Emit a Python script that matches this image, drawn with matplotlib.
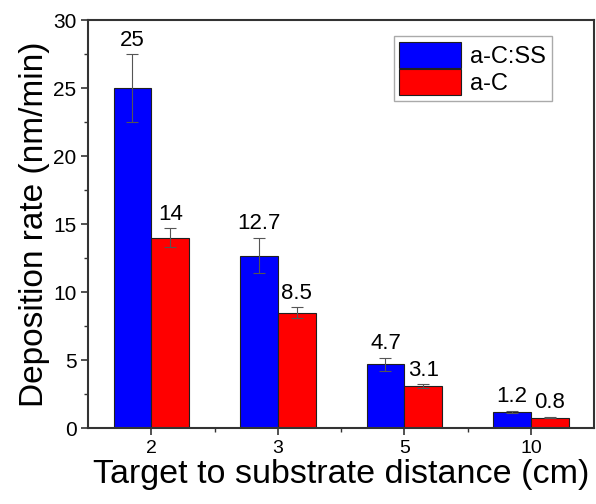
import numpy as np
import matplotlib
matplotlib.use("Agg")
import matplotlib.pyplot as plt
from matplotlib.ticker import MultipleLocator

plt.rcParams['font.family'] = ['Liberation Sans', 'DejaVu Sans']

# data
distances = ["2", "3", "5", "10"]
acss = [25, 12.7, 4.7, 1.2]
acss_err = [2.5, 1.3, 0.5, 0.1]
ac = [14, 8.5, 3.1, 0.8]
ac_err = [0.7, 0.4, 0.15, 0.05]
acss_labels = ["25", "12.7", "4.7", "1.2"]
ac_labels = ["14", "8.5", "3.1", "0.8"]

x = np.arange(len(distances))
w = 0.30

fig, ax = plt.subplots(figsize=(5.96, 5.04), dpi=100)
fig.subplots_adjust(left=0.148, right=0.997, top=0.96, bottom=0.15)

ax.bar(x - w/2, acss, w, color="#0000ff", edgecolor="#202020", linewidth=0.8,
       yerr=acss_err, error_kw=dict(ecolor="#555555", elinewidth=0.8, capsize=4, capthick=0.8),
       label="a-C:SS")
ax.bar(x + w/2, ac, w, color="#ff0000", edgecolor="#202020", linewidth=0.8,
       yerr=ac_err, error_kw=dict(ecolor="#555555", elinewidth=0.8, capsize=4, capthick=0.8),
       label="a-C")

# value labels
for i in range(len(x)):
    ax.text(x[i] - w/2, acss[i] + acss_err[i] + 0.25, acss_labels[i],
            ha="center", va="bottom", fontsize=16)
    ax.text(x[i] + w/2, ac[i] + ac_err[i] + 0.25, ac_labels[i],
            ha="center", va="bottom", fontsize=16)

ax.set_xlim(-0.5, 3.5)
ax.set_ylim(0, 30)
ax.set_xticks(x)
ax.set_xticklabels(distances, fontsize=14)
ax.set_xticks(x[:-1] + 0.5, minor=True)
ax.yaxis.set_major_locator(MultipleLocator(5))
ax.yaxis.set_minor_locator(MultipleLocator(2.5))
ax.tick_params(axis="y", labelsize=15)
ax.tick_params(which="major", direction="out", length=5, width=1.2, color="#333333")
ax.tick_params(which="minor", direction="out", length=3, width=1.0, color="#333333")

for s in ax.spines.values():
    s.set_linewidth(1.5)
    s.set_color("#333333")

ax.set_xlabel("Target to substrate distance (cm)", fontsize=24.5, labelpad=1)
ax.set_ylabel("Deposition rate (nm/min)", fontsize=24, labelpad=2)

leg = ax.legend(loc="upper right", bbox_to_anchor=(0.94, 0.99), fontsize=17,
                fancybox=False, framealpha=1, edgecolor="#aaaaaa",
                handlelength=2.6, handleheight=1.3, handletextpad=0.4,
                borderpad=0.25, labelspacing=0.05)

fig.savefig("out.png", dpi=100)
